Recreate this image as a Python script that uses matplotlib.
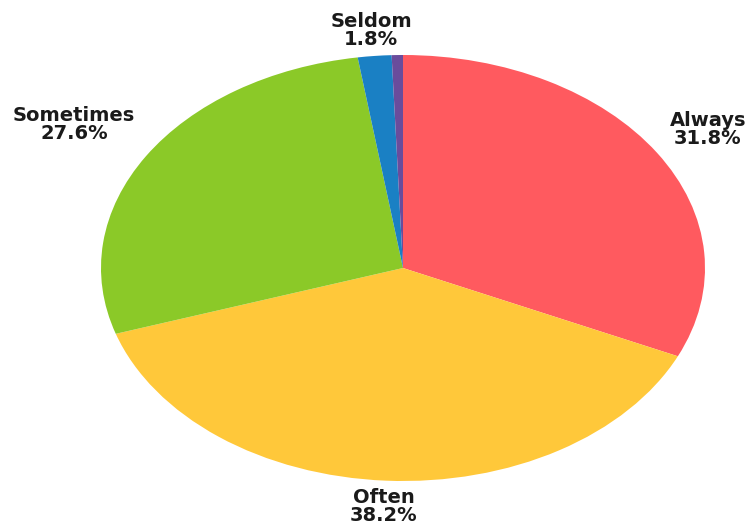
import numpy as np
import matplotlib.pyplot as plt

labels = ["Always", "Often", "Sometimes", "Seldom", ""]
shares = [31.8, 38.2, 27.6, 1.8, 0.6]
colors = ["#FF5A5F", "#FFC83A", "#8BC928", "#1A80C4", "#6A4C9C"]

# how far out each label sits, in pie radii
label_dist = [1.2, 1.12, 1.28, 1.12, 1.12]

fig = plt.figure(figsize=(7.49, 5.25), dpi=100)
ax = fig.add_axes([101 / 749, 44 / 525, 604 / 749, 426 / 525])

wedges, _ = ax.pie(shares, colors=colors, startangle=90, counterclock=False,
                   radius=1, wedgeprops=dict(linewidth=0))
ax.set_aspect("auto")
ax.set_xlim(-1, 1)
ax.set_ylim(-1, 1)
ax.axis("off")

for w, lab, val, d in zip(wedges, labels, shares, label_dist):
    if not lab:
        continue
    mid = np.deg2rad((w.theta1 + w.theta2) / 2)
    ax.text(d * np.cos(mid), d * np.sin(mid), f"{lab}\n{val:.1f}%",
            ha="center", va="center", fontsize=14, fontweight="bold",
            color="#1a1a1a", linespacing=0.95, clip_on=False)

fig.savefig("out.png", dpi=100)
